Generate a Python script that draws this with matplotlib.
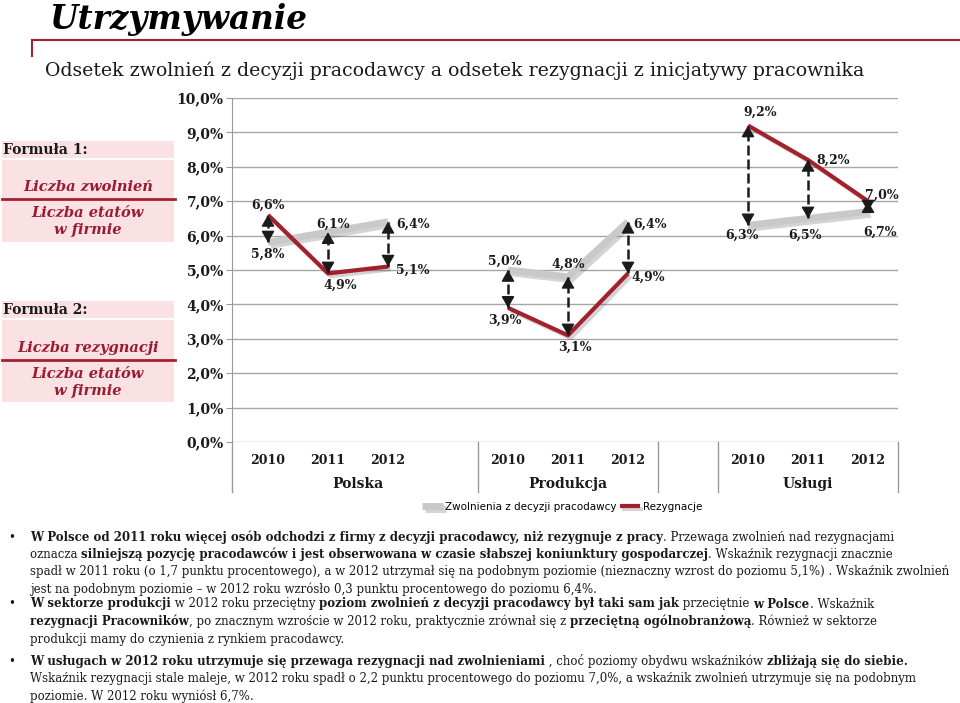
import matplotlib
matplotlib.use('Agg')
import matplotlib.pyplot as plt
import matplotlib.patheffects as pe
from matplotlib.patches import Rectangle
from matplotlib.lines import Line2D
import numpy as np

# --- data ---
years = ['2010', '2011', '2012', '', '2010', '2011', '2012', '', '2010', '2011', '2012']
groups = [('Polska', -0.5, 3.5), ('Produkcja', 3.5, 6.5), ('', 6.5, 7.5), ('Usługi', 7.5, 10.5)]
zwolnienia = [5.8, 6.1, 6.4, np.nan, 5.0, 4.8, 6.4, np.nan, 6.3, 6.5, 6.7]
rezygnacje = [6.6, 4.9, 5.1, np.nan, 3.9, 3.1, 4.9, np.nan, 9.2, 8.2, 7.0]
series_names = ['Zwolnienia z decyzji pracodawcy', 'Rezygnacje']
yticks = [0, 1, 2, 3, 4, 5, 6, 7, 8, 9, 10]

# label offsets (pixels) for each point
off_z = [(0, -12), (5, 8), (25, -2), None, (-3, 9), (0, 13), (22, -2), None, (-6, -10), (-3, -17), (12, -21)]
off_r = [(0, 10), (12, -12), (25, -4), None, (-3, -12), (7, -12), (20, -4), None, (12, 13), (25, 0), (14, 6)]

W, H = 960, 703
SERIF = 'DejaVu Serif'
DARK = '#1a1a1a'
RED = '#a3212a'
GREY = '#c9c9c9'
PINK = '#f9e1e4'
TXTRED = '#9b1b30'

def fx(x):
    return x / W

def fy(y):
    return 1 - y / H

def pct(v, d=1):
    return f'{v:.{d}f}%'.replace('.', ',')

fig = plt.figure(figsize=(9.6, 7.03), dpi=100)

# --- title & header line ---
fig.text(fx(49), fy(20), 'Utrzymywanie', fontsize=23.5, family=SERIF,
         fontweight='bold', style='italic', va='center', ha='left', color='black')
fig.add_artist(Line2D([fx(32), fx(960)], [fy(40), fy(40)], color=RED, lw=1.5))
fig.add_artist(Line2D([fx(32), fx(32)], [fy(40), fy(56)], color=RED, lw=1.5))
fig.text(fx(45), fy(71), 'Odsetek zwolnień z decyzji pracodawcy a odsetek rezygnacji z inicjatywy pracownika',
         fontsize=13.6, family=SERIF, va='center', ha='left', color=DARK)

# --- formula boxes ---
def formula(top, label, numer, line_y):
    fig.add_artist(Rectangle((fx(2), fy(top + 17)), fx(172), 17 / H, transform=fig.transFigure,
                             facecolor=PINK, edgecolor='none'))
    fig.add_artist(Rectangle((fx(2), fy(top + 101)), fx(172), 82 / H, transform=fig.transFigure,
                             facecolor=PINK, edgecolor='none'))
    fig.text(fx(3), fy(top + 9), label, fontsize=10, family=SERIF, fontweight='bold',
             va='center', ha='left', color=DARK)
    fig.text(fx(88), fy(line_y - 12), numer, fontsize=10.5, family=SERIF, style='italic',
             fontweight='bold', va='center', ha='center', color=TXTRED)
    fig.add_artist(Line2D([fx(2), fx(175)], [fy(line_y), fy(line_y)], color=RED, lw=2))
    fig.text(fx(88), fy(line_y + 14), 'Liczba etatów', fontsize=10.5, family=SERIF, style='italic',
             fontweight='bold', va='center', ha='center', color=TXTRED)
    fig.text(fx(88), fy(line_y + 31), 'w firmie', fontsize=10.5, family=SERIF, style='italic',
             fontweight='bold', va='center', ha='center', color=TXTRED)

formula(141, 'Formuła 1:', 'Liczba zwolnień', 199)
formula(301, 'Formuła 2:', 'Liczba rezygnacji', 360)

# --- chart ---
ax = fig.add_axes([fx(232), fy(442), fx(898) - fx(232), fy(98) - fy(442)])
x = np.arange(len(years))
ax.set_xlim(-0.6, 10.5)
ax.set_ylim(0, 10)
for s in ['top', 'right', 'bottom']:
    ax.spines[s].set_visible(False)
ax.spines['left'].set_color('#9a9a9a')
ax.set_yticks(yticks)
ax.set_yticklabels([pct(v) for v in yticks], fontsize=10, family=SERIF,
                   fontweight='bold', color=DARK)
ax.tick_params(axis='y', length=4, color='#9a9a9a', pad=2)
ax.set_xticks([])
for v in yticks:
    ax.axhline(v, color='#a6a6a6', lw=1, zorder=1)

shadow = [pe.SimpleLineShadow(offset=(2, -2), alpha=0.25, shadow_color='#555555'), pe.Normal()]
zw = np.array(zwolnienia)
rz = np.array(rezygnacje)
ax.plot(x, zw, color=GREY, lw=5, zorder=3, path_effects=shadow, label=series_names[0],
        solid_capstyle='butt')
ax.plot(x, rz, color=RED, lw=3, zorder=3, path_effects=shadow, label=series_names[1],
        solid_capstyle='butt')

# double arrows between the two series
for i in range(len(x)):
    if np.isnan(zw[i]):
        continue
    lo, hi = min(zw[i], rz[i]), max(zw[i], rz[i])
    ax.plot([x[i], x[i]], [lo, hi], color=DARK, lw=1.8, dashes=(4, 1.6), zorder=4)
    for tip, dy in [(hi, -9), (lo, 9)]:
        ax.annotate('', xy=(x[i], tip), xytext=(0, dy), textcoords='offset pixels',
                    arrowprops=dict(arrowstyle='-|>,head_length=0.35,head_width=0.2',
                                    mutation_scale=20, color=DARK, lw=1,
                                    shrinkA=0, shrinkB=0), zorder=5)

# data labels
for vals, offs in [(zw, off_z), (rz, off_r)]:
    for i in range(len(x)):
        if np.isnan(vals[i]):
            continue
        ax.annotate(pct(vals[i]), xy=(x[i], vals[i]), xytext=offs[i], textcoords='offset pixels',
                    ha='center', va='center', fontsize=9, family=SERIF, fontweight='bold',
                    color=DARK, zorder=6)

# category axis (years + groups)
tr = ax.get_xaxis_transform()
for i, yl in enumerate(years):
    ax.text(x[i], -0.055, yl, transform=tr, ha='center', va='center', fontsize=9,
            family=SERIF, fontweight='bold', color=DARK)
for name, a, b in groups:
    ax.text((a + b) / 2, -0.122, name, transform=tr, ha='center', va='center', fontsize=10,
            family=SERIF, fontweight='bold', color=DARK)
for b in [-0.6, 3.5, 6.5, 7.5, 10.5]:
    ax.plot([b, b], [0, -0.145], transform=tr, color='#9a9a9a', lw=1, clip_on=False)

handles, labels = ax.get_legend_handles_labels()
fig.legend(handles, labels, loc='center', bbox_to_anchor=(fx(562), fy(507)), ncol=2,
           frameon=False, handlelength=2.0, handletextpad=0.2, columnspacing=0.3,
           prop=dict(family=['Liberation Sans Narrow', 'DejaVu Sans'], size=7.5))

# --- bullet text ---
bullets = [
    (537, [
        [('W Polsce od 2011 roku więcej osób odchodzi z firmy z decyzji pracodawcy, niż rezygnuje z pracy', True),
         ('. Przewaga zwolnień nad rezygnacjami', False)],
        [('oznacza ', False),
         ('silniejszą pozycję pracodawców i jest obserwowana w czasie słabszej koniunktury gospodarczej', True),
         ('. Wskaźnik rezygnacji znacznie', False)],
        [('spadł w 2011 roku (o 1,7 punktu procentowego), a w 2012 utrzymał się na podobnym poziomie '
          '(nieznaczny wzrost do poziomu 5,1%) . Wskaźnik zwolnień', False)],
        [('jest na podobnym poziomie – w 2012 roku wzrósło 0,3 punktu procentowego do poziomu 6,4%.', False)],
    ]),
    (604, [
        [('W sektorze produkcji', True), (' w 2012 roku przeciętny ', False),
         ('poziom zwolnień z decyzji pracodawcy był taki sam jak', True), (' przeciętnie ', False),
         ('w Polsce', True), ('. Wskaźnik', False)],
        [('rezygnacji Pracowników', True),
         (', po znacznym wzroście w 2012 roku, praktycznie zrównał się z ', False),
         ('przeciętną ogólnobranżową', True), ('. Również w sektorze', False)],
        [('produkcji mamy do czynienia z rynkiem pracodawcy.', False)],
    ]),
    (661, [
        [('W usługach w 2012 roku utrzymuje się przewaga rezygnacji nad zwolnieniami', True),
         (' , choć poziomy obydwu wskaźników ', False), ('zbliżają się do siebie.', True)],
        [('Wskaźnik rezygnacji stale maleje, w 2012 roku spadł o 2,2 punktu procentowego do poziomu 7,0%, '
          'a wskaźnik zwolnień utrzymuje się na podobnym', False)],
        [('poziomie. W 2012 roku wyniósł 6,7%.', False)],
    ]),
]

renderer = fig.canvas.get_renderer()

def seg_width(txt, bold, size):
    t = fig.text(0, 0, txt + '|', fontsize=size, family=SERIF,
                 fontweight='bold' if bold else 'normal')
    w1 = t.get_window_extent(renderer).width
    t.set_text('|')
    w2 = t.get_window_extent(renderer).width
    t.remove()
    return w1 - w2

base = 10.0
maxw = 0
for _, lines in bullets:
    for line in lines:
        maxw = max(maxw, sum(seg_width(s, b, base) for s, b in line))
size = min(base, base * 925 / maxw)

for y0, lines in bullets:
    fig.text(fx(8), fy(y0), '•', fontsize=size, family=SERIF, va='center', ha='left', color=DARK)
    for k, line in enumerate(lines):
        xp = 30
        yp = y0 + k * 17.5
        for s, b in line:
            fig.text(fx(xp), fy(yp), s, fontsize=size, family=SERIF,
                     fontweight='bold' if b else 'normal', va='center', ha='left', color=DARK)
            xp += seg_width(s, b, size)

fig.savefig('out.png', dpi=100)
